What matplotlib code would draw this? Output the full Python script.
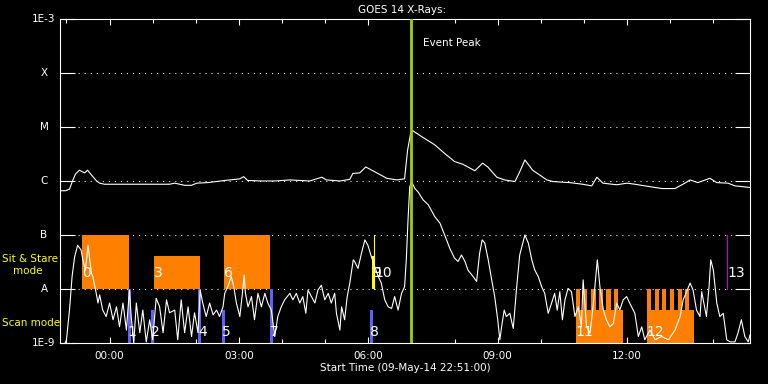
import numpy as np
import matplotlib
matplotlib.use('Agg')
import matplotlib.pyplot as plt
from matplotlib.ticker import FixedLocator, NullLocator, NullFormatter

plt.rcParams['font.family'] = ['DejaVu Sans']
plt.rcParams['lines.scale_dashes'] = False

# GOES long channel (1-8 A): hours after 00:00, log10 flux
long_t = [-1.14, -1.02, -0.93, -0.86, -0.79, -0.70, -0.63, -0.58, -0.51, -0.42, -0.30, -0.23, -0.12, 0.00,
          0.23, 0.46, 0.70, 0.93, 1.16, 1.39, 1.51, 1.74, 1.90, 2.02, 2.27, 2.67, 3.02, 3.11, 3.20, 3.53,
          3.83, 4.18, 4.64, 4.92, 5.03, 5.34, 5.57, 5.64, 5.80, 5.94, 6.08, 6.22, 6.43, 6.66, 6.84, 6.91,
          6.98, 7.03, 7.24, 7.54, 7.77, 8.00, 8.19, 8.47, 8.65, 8.77, 8.98, 9.16, 9.40, 9.51, 9.63, 9.81,
          10.14, 10.28, 10.67, 10.97, 11.18, 11.30, 11.44, 11.76, 12.00, 12.18, 12.41, 12.81, 13.11, 13.34,
          13.46, 13.64, 13.92, 14.08, 14.34, 14.50, 14.85]
long_lf = [-6.18, -6.18, -6.15, -6.00, -5.87, -5.80, -5.83, -5.85, -5.80, -5.89, -6.00, -6.04, -6.06, -6.06,
           -6.06, -6.06, -6.06, -6.06, -6.06, -6.06, -6.04, -6.08, -6.08, -6.04, -6.03, -5.99, -5.96, -5.92, -5.99, -6.00,
           -6.00, -5.98, -6.00, -5.93, -5.98, -6.00, -5.97, -5.86, -5.85, -5.74, -5.80, -5.86, -5.95, -5.98, -5.96, -5.43,
           -5.12, -5.07, -5.18, -5.33, -5.49, -5.64, -5.69, -5.81, -5.67, -5.74, -5.93, -5.98, -6.01, -5.83, -5.61, -5.80,
           -5.98, -6.01, -6.03, -6.06, -6.09, -5.93, -6.04, -6.07, -6.04, -6.06, -6.09, -6.14, -6.14, -6.04,
           -5.98, -6.03, -5.95, -6.03, -6.04, -6.09, -6.12]

# GOES short channel (0.5-4 A)
short_t = [-1.16, -1.03, -1.00, -0.93, -0.87, -0.81, -0.74, -0.66, -0.62, -0.56, -0.50, -0.46, -0.42, -0.39, -0.31, -0.27, -0.23, -0.16, -0.08, 0.00,
           0.08, 0.16, 0.23, 0.31, 0.39, 0.46, 0.50, 0.56, 0.62, 0.70, 0.77, 0.85, 0.93, 1.00, 1.08, 1.16, 1.24, 1.32, 1.39, 1.51,
           1.58, 1.66, 1.74, 1.82, 1.90, 1.97, 2.05, 2.10, 2.16, 2.24, 2.32, 2.40, 2.48, 2.55, 2.63, 2.67, 2.74, 2.82, 2.88, 2.94,
           3.02, 3.08, 3.12, 3.15, 3.21, 3.29, 3.36, 3.44, 3.52, 3.60, 3.67, 3.75, 3.83, 3.90, 3.98, 4.06, 4.18, 4.25, 4.33, 4.41,
           4.48, 4.55, 4.60, 4.68, 4.76, 4.83, 4.91, 4.99, 5.07, 5.14, 5.22, 5.26, 5.34, 5.38, 5.45, 5.51, 5.57, 5.65, 5.68, 5.76,
           5.84, 5.92, 5.99, 6.07, 6.15, 6.23, 6.30, 6.38, 6.46, 6.54, 6.61, 6.69, 6.77, 6.84, 6.88, 6.92, 6.96, 7.00, 7.08, 7.15,
           7.27, 7.39, 7.54, 7.66, 7.77, 7.89, 8.00, 8.08, 8.16, 8.24, 8.31, 8.43, 8.51, 8.58, 8.64, 8.70, 8.78, 8.86, 8.93, 9.00,
           9.05, 9.09, 9.15, 9.20, 9.28, 9.36, 9.44, 9.51, 9.63, 9.71, 9.79, 9.86, 9.94, 10.02, 10.09, 10.17, 10.25, 10.32, 10.38, 10.44,
           10.50, 10.56, 10.63, 10.71, 10.79, 10.87, 10.94, 10.98, 11.06, 11.14, 11.21, 11.31, 11.37, 11.45, 11.52, 11.60, 11.68, 11.76, 11.83, 11.91,
           11.99, 12.06, 12.18, 12.26, 12.34, 12.41, 12.53, 12.65, 12.80, 12.96, 13.11, 13.23, 13.30, 13.38, 13.46, 13.53, 13.61, 13.69, 13.73, 13.81,
           13.84, 13.90, 13.94, 14.00, 14.08, 14.15, 14.23, 14.31, 14.39, 14.50, 14.57, 14.65, 14.73, 14.81, 14.85]
short_lf = [-9.13, -9.00, -8.94, -8.39, -7.77, -7.40, -7.19, -7.28, -7.46, -7.65, -7.19, -7.46, -7.71, -7.77, -8.08, -8.26, -8.11, -8.39, -8.51, -8.26,
            -8.57, -8.33, -8.70, -8.26, -8.76, -8.02, -8.51, -9.00, -8.26, -8.81, -8.39, -8.98, -8.57, -8.94, -8.17, -8.33, -8.81, -8.20, -8.44, -8.39,
            -8.94, -8.20, -8.81, -8.33, -8.88, -8.44, -8.81, -8.02, -8.26, -8.51, -8.26, -8.48, -8.39, -8.51, -8.33, -8.08, -7.96, -7.77, -7.96, -8.26,
            -8.51, -8.08, -7.74, -8.08, -8.33, -8.14, -8.57, -8.08, -8.33, -8.08, -8.26, -8.39, -8.88, -8.51, -8.33, -8.20, -8.08, -8.20, -8.08, -8.26,
            -8.14, -8.45, -8.02, -8.14, -8.26, -8.02, -7.93, -8.20, -8.08, -8.26, -8.08, -8.45, -8.76, -8.33, -8.57, -8.14, -7.89, -7.46, -7.49, -7.62,
            -7.34, -7.09, -7.19, -7.40, -7.59, -7.77, -7.89, -8.20, -8.33, -8.36, -8.14, -8.39, -8.08, -7.96, -7.46, -6.72, -6.11, -6.01, -6.14, -6.20,
            -6.35, -6.44, -6.66, -6.78, -7.00, -7.25, -7.43, -7.49, -7.37, -7.49, -7.65, -7.77, -7.86, -7.34, -7.09, -7.15, -7.46, -7.83, -8.14, -8.57,
            -8.94, -8.70, -8.39, -8.51, -8.45, -8.73, -7.96, -7.37, -7.00, -7.15, -7.46, -7.65, -7.77, -7.96, -8.08, -8.45, -8.26, -8.08, -8.39, -8.05,
            -8.57, -8.20, -7.99, -8.05, -8.51, -8.33, -8.70, -7.83, -8.70, -8.82, -8.33, -7.46, -7.96, -8.39, -8.57, -8.70, -8.64, -8.26, -8.39, -8.20,
            -8.14, -8.26, -8.45, -8.88, -8.70, -8.94, -8.76, -8.94, -8.88, -8.94, -8.76, -8.51, -8.20, -8.05, -7.89, -8.02, -8.39, -8.51, -8.05, -8.39,
            -8.51, -7.96, -7.46, -7.65, -8.26, -8.51, -8.45, -8.94, -8.98, -8.98, -8.82, -8.57, -8.88, -8.98, -8.85]

# Sit & Stare observations (orange boxes)
sit_start = [-0.63, 1.02, 2.65]
sit_dur = [1.07, 1.07, 1.06]
sit_top = [1e-7, 4.1e-8, 1e-7]
# long sit & stare blocks with short repeats (11, 12)
comb_start = [10.81, 12.46]
comb_dur = [1.09, 1.08]
comb_top = [4.1e-9, 4.1e-9]
comb_teeth = [[10.81, 10.98, 11.17, 11.34, 11.52, 11.70],
              [12.46, 12.64, 12.81, 12.99, 13.17, 13.34]]
tooth_dur = 0.10
# Scan mode observations (blue bars)
scan_start = [0.42, 0.97, 2.06, 2.60, 3.71, 6.03]
scan_dur = 0.07
scan_top = [1e-8, 4.1e-9, 1e-8, 4.1e-9, 1e-8, 4.1e-9]
# short events
yellow_bar = (6.08, 0.08, 4.1e-8)
yellow_line = 6.14
magenta_line = 14.32
peak_time = 7.00

ev_num = ['0', '1', '2', '3', '4', '5', '6', '7', '8', '9', '10', '11', '12', '13']
ev_time = [-0.63, 0.42, 0.97, 1.02, 2.06, 2.60, 2.65, 3.71, 6.03, 6.08, 6.14, 10.81, 12.46, 14.32]
ev_row = ['u', 'l', 'l', 'u', 'l', 'l', 'u', 'l', 'l', 'u', 'u', 'l', 'l', 'u']

xticks = [0, 3, 6, 9, 12]
xticklabels = ['00:00', '03:00', '06:00', '09:00', '12:00']
ylevels = [1e-9, 1e-8, 1e-7, 1e-6, 1e-5, 1e-4, 1e-3]
ylabels = ['1E-9', 'A', 'B', 'C', 'M', 'X', '1E-3']

W, H = 768, 384
fig = plt.figure(figsize=(W / 100, H / 100), dpi=100, facecolor='black')
ax = fig.add_axes([60 / W, 41 / H, 690 / W, 324 / H])
ax.set_facecolor('black')
ax.set_yscale('log')
ax.set_xlim(-1.15, 14.85)
ax.set_ylim(1e-9, 1e-3)

for s in ax.spines.values():
    s.set_color('white')
    s.set_linewidth(0.8)

# dotted class levels
for lv in ylevels[1:-1]:
    ax.axhline(lv, color='white', lw=0.75, dashes=(0.75, 3.6), zorder=1)

ax.yaxis.set_major_locator(FixedLocator(ylevels))
ax.yaxis.set_minor_locator(NullLocator())
ax.yaxis.set_major_formatter(NullFormatter())
ax.yaxis.set_minor_formatter(NullFormatter())
ax.tick_params(axis='y', which='major', direction='in', length=10.8, width=0.8,
               color='white', left=True, right=True)

ax.xaxis.set_major_locator(FixedLocator(xticks))
ax.xaxis.set_minor_locator(FixedLocator(np.arange(-1, 15)))
ax.set_xticklabels(xticklabels)
ax.tick_params(axis='x', which='major', direction='in', length=4.5, width=0.8,
               color='white', top=True, bottom=True, labelcolor='white',
               labelsize=7.5, pad=5.5)
ax.tick_params(axis='x', which='minor', direction='in', length=2.8, width=0.8,
               color='white', top=True, bottom=True)

for lv, lab in zip(ylevels, ylabels):
    y = ax.transData.transform((0, lv))[1]
    fig.text(44 / W, y / H, lab, color='white', fontsize=7.5, ha='center', va='center')

orange = '#FF8000'
blue = '#6060FF'
for s, d, t in zip(sit_start, sit_dur, sit_top):
    ax.fill_between([s, s + d], 1e-8, t, color=orange, lw=0, zorder=2)
for s, d, t, teeth in zip(comb_start, comb_dur, comb_top, comb_teeth):
    ax.fill_between([s, s + d], 1e-9, t, color=orange, lw=0, zorder=2)
    for ts in teeth:
        ax.fill_between([ts, ts + tooth_dur], 1e-9, 1e-8, color=orange, lw=0, zorder=2)
for s, t in zip(scan_start, scan_top):
    ax.fill_between([s, s + scan_dur], 1e-9, t, color=blue, lw=0, zorder=2)
ax.fill_between([yellow_bar[0], yellow_bar[0] + yellow_bar[1]], 1e-8, yellow_bar[2],
                color='#FFFF00', lw=0, zorder=2)
ax.plot([yellow_line, yellow_line], [1e-8, 1e-7], color='#FFFF00', lw=0.8, zorder=2)
ax.plot([magenta_line, magenta_line], [1e-8, 1e-7], color='#C800C8', lw=0.8, zorder=2)

ax.plot(long_t, 10 ** np.array(long_lf), color='white', lw=0.8, zorder=3)
ax.plot(short_t, 10 ** np.array(short_lf), color='white', lw=0.8, zorder=3)

ax.axvline(peak_time, color='#A0D000', lw=2.0, zorder=4)
ax.text(7.26, 3.6e-4, 'Event Peak', color='white', fontsize=7.5, ha='left', va='center')

for n, t, r in zip(ev_num, ev_time, ev_row):
    yv = 2.0e-8 if r == 'u' else 1.6e-9
    ax.text(t, yv, n, color='white', fontsize=10, ha='left', va='center', zorder=5)

fig.text(402 / W, 1 - 10 / H, 'GOES 14 X-Rays:', color='white', fontsize=7.5,
         ha='center', va='center')
fig.text(405 / W, 1 - 368 / H, 'Start Time (09-May-14 22:51:00)', color='white',
         fontsize=7.5, ha='center', va='center')
fig.text(2 / W, 1 - 259 / H, 'Sit & Stare', color='#FFFF00', fontsize=7.5, ha='left', va='center')
fig.text(13 / W, 1 - 271 / H, 'mode', color='#FFFF00', fontsize=7.5, ha='left', va='center')
fig.text(2 / W, 1 - 323.5 / H, 'Scan mode', color='#FFFF00', fontsize=7.5, ha='left', va='center')

fig.savefig('out.png', dpi=100, facecolor='black')
